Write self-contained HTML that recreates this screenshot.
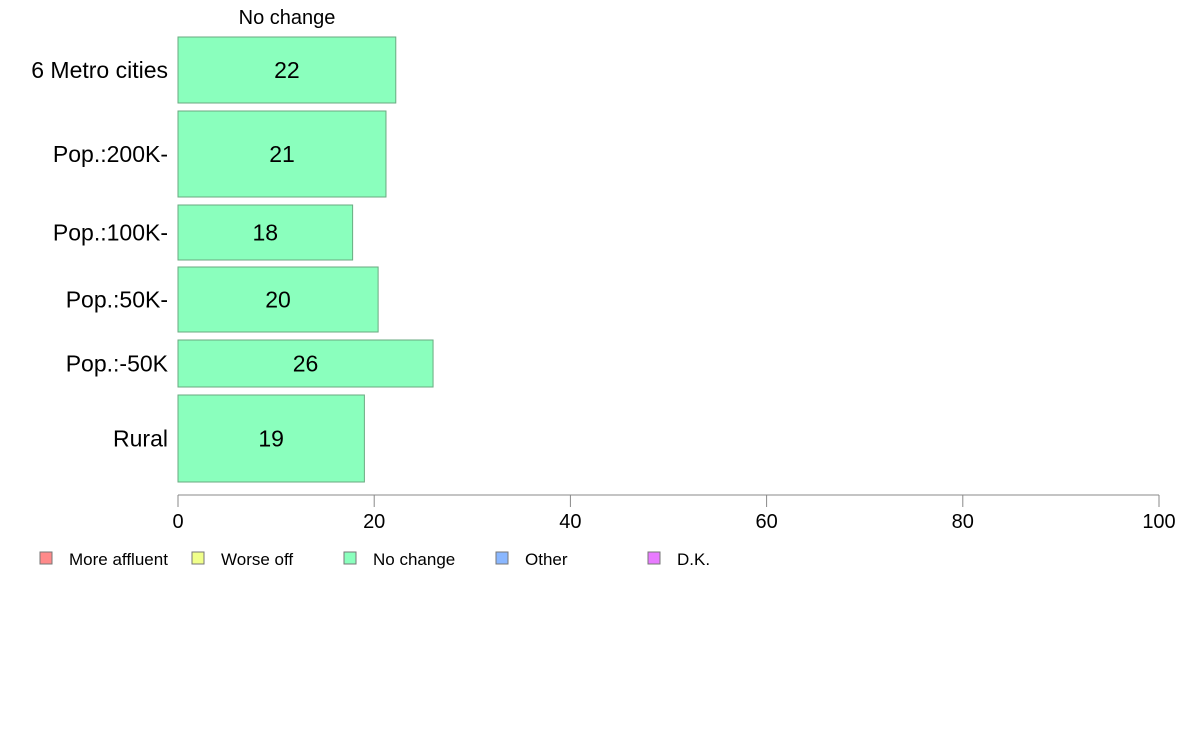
<!DOCTYPE html>
<html><head><meta charset="utf-8"><style>
body{margin:0;background:#fff;}
svg text{font-family:"Liberation Sans",Arial,sans-serif;}
</style></head><body>
<svg width="1188" height="736" xmlns="http://www.w3.org/2000/svg">
<g id="bars"></g><g id="axis"></g><g id="legend"></g>
<text x="287" y="24" font-size="20" text-anchor="middle">No change</text>
</svg>
<script>
const categories=["6 Metro cities","Pop.:200K-","Pop.:100K-","Pop.:50K-","Pop.:-50K","Rural"];
const values=[22.2,21.2,17.8,20.4,26.0,19.0];
const labels=["22","21","18","20","26","19"];
const bandTop=[37,111,205,267,340,395];
const bandBottom=[103,197,260,332,387,482];
const ticks=[0,20,40,60,80,100];
const legendNames=["More affluent","Worse off","No change","Other","D.K."];
const legendColors=["#ff8a8a","#f0ff8a","#8affbd","#8ab7ff","#e87aff"];
const NS="http://www.w3.org/2000/svg";
const x=v=>178+v*9.81;
function mk(t,a,p){const e=document.createElementNS(NS,t);for(const k in a)e.setAttribute(k,a[k]);p.appendChild(e);return e;}
const gb=document.getElementById('bars');
categories.forEach((c,i)=>{
 const r=mk('rect',{x:x(0),y:bandTop[i],width:x(values[i])-x(0),height:bandBottom[i]-bandTop[i],fill:'#8affbd',stroke:'#6aaa80','stroke-width':1},gb);
 
 
 const mid=(bandTop[i]+bandBottom[i])/2;
 const t=mk('text',{x:(x(0)+x(values[i]))/2,y:mid+8,'font-size':23,'text-anchor':'middle'},gb);t.textContent=labels[i];
 
 
 const l=mk('text',{x:168,y:mid+8,'font-size':23,'text-anchor':'end'},gb);l.textContent=c;
 
 
});
const ga=document.getElementById('axis');
const al=mk('line',{x1:x(0),x2:x(100),y1:495,y2:495,stroke:'#888','stroke-width':1},ga);


ticks.forEach(v=>{
 const tl=mk('line',{x1:x(v),x2:x(v),y1:495,y2:507,stroke:'#888'},ga);
 
 
 const tt=mk('text',{x:x(v),y:528,'font-size':20,'text-anchor':'middle'},ga);tt.textContent=v;
 
 
});
const gl=document.getElementById('legend');
legendNames.forEach((n,i)=>{
 const lx=40+i*152;
 const s=mk('rect',{x:lx,y:552,width:12,height:12,fill:legendColors[i],stroke:'#777'},gl);
 
 
 const t=mk('text',{x:lx+29,y:565,'font-size':17},gl);t.textContent=n;
 
 
});
</script>
</body></html>
